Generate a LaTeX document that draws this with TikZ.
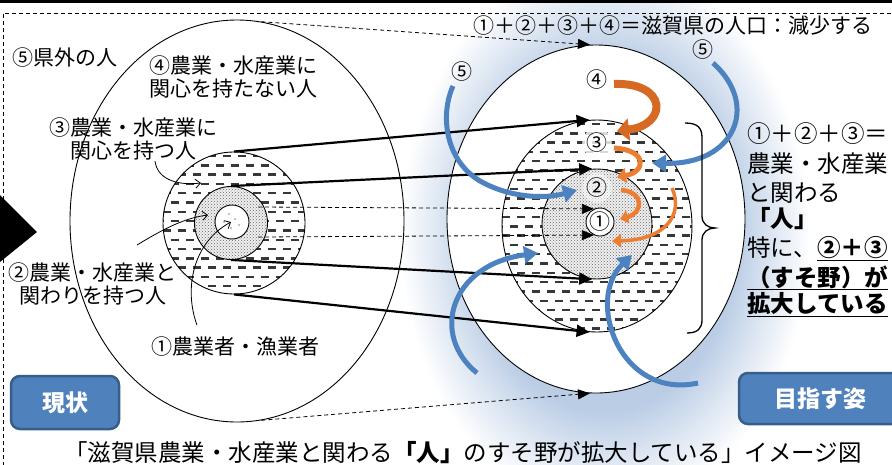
\documentclass[tikz,border=0pt]{standalone}
\usepackage{fontspec}
\setmainfont{Noto Sans CJK JP}
\usetikzlibrary{arrows.meta,patterns,shapes.geometric}
\definecolor{glowc}{RGB}{186,205,229}
\definecolor{glowd}{RGB}{218,228,241}
\definecolor{boxfill}{RGB}{79,129,189}
\definecolor{boxline}{RGB}{56,93,138}
\definecolor{orng}{RGB}{237,125,49}
\definecolor{orngd}{RGB}{214,105,35}
\definecolor{blu}{RGB}{76,130,192}
\definecolor{hatchc}{RGB}{55,55,55}
\pgfdeclareradialshading{glow}{\pgfpoint{0bp}{0bp}}{color(0bp)=(glowc); color(16bp)=(glowc); color(20bp)=(glowd); color(25bp)=(white); color(50bp)=(white)}
\begin{document}
\begin{tikzpicture}[x=1pt, y=-1pt,
  lbl/.style={font=\fontsize{21}{23}\selectfont, inner sep=0pt, align=center},
  rlbl/.style={font=\fontsize{23.5}{28}\selectfont, inner sep=0pt, anchor=base west},
  num/.style={font=\fontsize{21}{23}\selectfont, inner sep=0.3pt},
  thickconn/.style={line width=2.2pt, -{Triangle[length=13pt,width=12pt]}},
  dashconn/.style={line width=0.8pt, dash pattern=on 4pt off 3pt, -{Triangle[length=12pt,width=10pt]}},
  leader/.style={line width=0.8pt, -{Straight Barb[length=5pt,width=9pt]}},
  ring/.style={circle, draw, line width=0.9pt, inner sep=0pt},
  oval/.style={ellipse, draw, line width=0.9pt, inner sep=0pt},
  hatchfill/.style={fill=white, path picture={
    \foreach \k in {0,...,24} {
      \pgfmathsetmacro\ph{mod(\k,2)*7.5}
      \draw[line width=2.4pt, hatchc, dash pattern=on 8pt off 7pt, dash phase=\ph pt]
        ([yshift=-\k*9.3pt-4pt]path picture bounding box.north west) --
        ([yshift=-\k*9.3pt-4pt]path picture bounding box.north east);
    }}},
  dotfill/.style={preaction={fill=gray!12}, pattern=crosshatch dots, pattern color=black!60},
  labelbox/.style={draw=boxline, line width=2.5pt, fill=boxfill, rounded corners=9pt, text=white,
    font=\fontsize{23}{25}\selectfont\bfseries, inner sep=0pt},
  oarr/.style={orng, -{Triangle[length=9pt,width=14pt]}},
  barr/.style={blu, line width=5pt, -{Triangle[length=14pt,width=17pt]}},
  ulined/.style={line width=1.6pt}]
\useasboundingbox (0,0) rectangle (892,464);

% glow
\shade[shading=glow] (605,235) ellipse [x radius=205, y radius=275];

% frame
\draw[line width=0.8pt, dash pattern=on 4pt off 3pt] (3,480) -- (3,13) -- (900,13);
\fill (0,0) rectangle (892,3.3);

% ellipses
\node[oval, minimum width=334, minimum height=402] (LE) at (237,221) {};
\node[oval, fill=white, minimum width=298, minimum height=348] (RE) at (596,219) {};

% left circles
\node[ring, hatchfill, minimum size=142] (LH) at (234,223) {};
\node[ring, dotfill, minimum size=73] (LD) at (231,223) {};
\node[ring, fill=white, minimum size=34] (LW) at (232,222) {};
\foreach \p in {(229,214),(224,222),(235,219),(239,225),(231,228)} \fill \p circle (0.7);

% right circles
\node[oval, hatchfill, minimum width=190, minimum height=212] (RH) at (597,226) {};
\node[ring, dotfill, minimum size=110] (RD) at (597,224) {};
\node[ring, fill=white, minimum size=28] (RW) at (600,222) {};

% connectors
\coordinate (ls1) at (258,207);
\coordinate (ls2) at (258,237);
\draw[dashconn] (LE.83) -- (RE.92);
\draw[dashconn] (LE.277) -- (RE.268);
\draw[dashconn] (ls1) -- (RW.115);
\draw[dashconn] (ls2) -- (RW.245);
\draw[thickconn] (LH.90) -- (RH.94);
\draw[thickconn] (LD.90) -- (RD.95);
\draw[thickconn] (LD.270) -- (RD.265);
\draw[thickconn] (LH.270) -- (RH.266);

% left labels
\node[lbl] (L5) at (65,58) {⑤県外の人};
\node[lbl] (L4) at (233,76.5) {④農業・水産業に\\関心を持たない人};
\node[lbl] (L3) at (133,139) {③農業・水産業に\\関心を持つ人};
\node[lbl] (L2) at (93,283.5) {②農業・水産業と\\関わりを持つ人};
\node[lbl] (L1) at (235,347) {①農業者・漁業者};

% leader arrows
\coordinate (l3s) at (155,161);
\coordinate (l3e) at (201,183);
\coordinate (l2s) at (137,245);
\coordinate (l2e) at (208,215);
\coordinate (l1s) at (197,325);
\coordinate (l1e) at (231,222);
\draw[leader] (l3s) .. controls (157,178) and (175,186) .. (l3e);
\draw[leader] (l2s) .. controls (165,228) and (185,218) .. (l2e);
\draw[leader] (l1s) .. controls (184,290) and (192,243) .. (l1e);

% right circled numbers
\node[num] (N4) at (597,80) {④};
\node[num, circle, fill=white, fill opacity=0.8, text opacity=1] (N3) at (597,143) {③};
\node[num, circle, fill=white, fill opacity=0.5, text opacity=1] (N2) at (597,188) {②};
\node[num] (N1) at (600,222) {①};
\node[num] (N5a) at (462,72) {⑤};
\node[num] (N5b) at (703,50) {⑤};

% orange arrows
\coordinate (o1s) at (614,84);   \coordinate (o1e) at (617,131);
\coordinate (o2s) at (614,148);  \coordinate (o2e) at (617,177);
\coordinate (o3s) at (621,190);  \coordinate (o3e) at (620,219);
\coordinate (o4s) at (672,188);  \coordinate (o4e) at (612,241);
\draw[oarr, orngd, line width=8pt, -{Triangle[length=12pt,width=22pt]}] (o1s) .. controls (668,82) and (668,125) .. (o1e);
\draw[oarr, line width=5pt, -{Triangle[length=9pt,width=15pt]}] (o2s) .. controls (648,150) and (646,172) .. (o2e);
\draw[oarr, line width=4.5pt, -{Triangle[length=8pt,width=13pt]}] (o3s) .. controls (645,192) and (643,213) .. (o3e);
\draw[oarr, line width=3.5pt, -{Triangle[length=9pt,width=13pt]}] (o4s) .. controls (684,215) and (665,240) .. (o4e);

% blue arrows
\coordinate (b1s) at (453,86);   \coordinate (b1e) at (577,190);
\coordinate (b2s) at (713,63);   \coordinate (b2e) at (652,163);
\coordinate (b3s) at (477,373);  \coordinate (b3e) at (538,253);
\coordinate (b4s) at (698,383);  \coordinate (b4e) at (632,255);
\draw[barr] (b1s) .. controls (440,115) and (445,160) .. (480,181) .. controls (510,198) and (545,199) .. (b1e);
\draw[barr] (b2s) .. controls (760,105) and (735,165) .. (b2e);
\draw[barr] (b3s) .. controls (430,335) and (450,265) .. (b3e);
\draw[barr] (b4s) .. controls (620,400) and (585,300) .. (b4e);

% brace
\draw[line width=1.3pt] (685,123) .. controls (698,123) and (702,128) .. (702,138) -- (702,216)
  .. controls (702,224) and (708,228) .. (715,228) .. controls (708,228) and (702,232) .. (702,240)
  -- (702,320) .. controls (702,328) and (698,333) .. (687,333);

% top line
\node[font=\fontsize{21}{23}\selectfont, inner sep=0pt, anchor=base east] (T) at (873,33) {①＋②＋③＋④＝滋賀県の人口：減少する};

% right text block
\node[rlbl] (r1) at (747,142) {①＋②＋③＝};
\node[rlbl] (r2) at (747,172) {農業・水産業};
\node[rlbl] (r3) at (747,201) {と関わる};
\node[rlbl] (r4) at (747,227) {\bfseries 「人」};
\node[rlbl] (r5) at (747,256) {特に、};
\node[rlbl] (r5b) at (r5.base east) {\bfseries ②＋③};
\node[rlbl] (r6) at (747,286) {\bfseries （すそ野）が};
\node[rlbl] (r7) at (747,312) {\bfseries 拡大している};
\draw[ulined] ([yshift=-4.5pt]r5b.base west) -- ([yshift=-4.5pt]r5b.base east);
\draw[ulined] ([yshift=-3.5pt]r6.base west) -- ([yshift=-3.5pt]r6.base east);
\draw[ulined] ([yshift=-4.5pt]r7.base west) -- ([yshift=-4.5pt]r7.base east);

% boxes
\node[labelbox, minimum width=108, minimum height=53] (now) at (65,402.5) {現状};
\node[labelbox, minimum width=162, minimum height=51] (goal) at (820,398.5) {目指す姿};

% left triangle
\fill (0,195) -- (37,232) -- (0,262) -- cycle;

% caption
\node[font=\fontsize{23.5}{25}\selectfont, inner sep=0pt, anchor=base] (cap) at (463,461) {「滋賀県農業・水産業と関わる{\bfseries 「人」}のすそ野が拡大している」イメージ図};
\end{tikzpicture}
\end{document}
